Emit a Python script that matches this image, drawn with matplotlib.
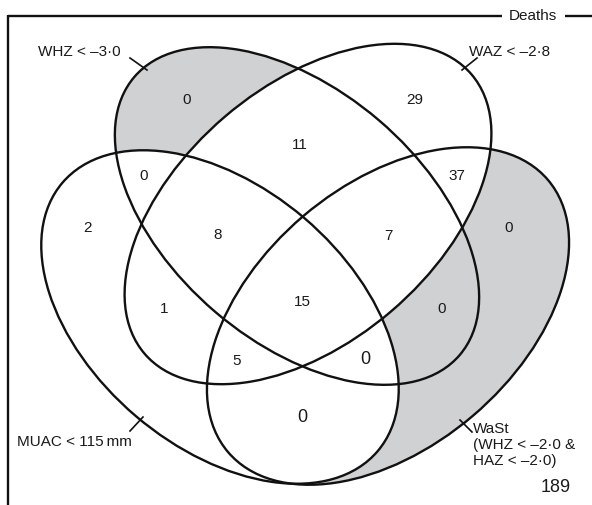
import numpy as np
import matplotlib
matplotlib.use("Agg")
import matplotlib.pyplot as plt
from matplotlib.patches import Ellipse

plt.rcParams['font.family'] = ['Liberation Sans', 'DejaVu Sans']

# ---------------- data ----------------
panel_title = "Deaths"
set_labels = ["WHZ < \u20133\u00b70", "WAZ < \u20132\u00b78", "MUAC < 115\u2009mm",
              "WaSt\n(WHZ < \u20132\u00b70 &\nHAZ < \u20132\u00b70)"]
# membership code: WHZ, WAZ, MUAC, WaSt
region_codes = ["1000", "0100", "0010", "0001",
                "1100", "1010", "1001", "0110", "0101", "0011",
                "1110", "1101", "1011", "0111", "1111"]
region_counts = [0, 29, 2, 0,
                 11, 0, 0, 1, 37, 0,
                 8, 7, 0, 5, 15]
outside_count = 189
shaded_regions = ["1000", "1001", "0001"]

# ---------------- layout (pixel space) ----------------
W, H = 592, 505
ellipses = [  # cx, cy, semi-major, semi-minor, angle
    (297, 216, 214, 126, 40.5),
    (308, 214, 215, 128, -40.5),
    (220, 317, 207, 130, 40.4),
    (388, 316, 210, 131, -40.4),
]
count_pos = {"1000": (187, 100), "0100": (415, 100), "0010": (88, 228), "0001": (509, 228),
             "1100": (300, 145), "1010": (144, 176), "1001": (442, 309), "0110": (164, 309),
             "0101": (457, 176), "0011": (302, 418), "1110": (218, 235), "1101": (388, 236),
             "1011": (365, 360), "0111": (237, 361), "1111": (302, 302)}
big_regions = {"1011", "0011"}
set_label_pos = [((121, 52), 'right', 'center', 'left'),
                 ((469, 52), 'left', 'center', 'left'),
                 ((17, 442), 'left', 'center', 'left'),
                 ((473, 445), 'left', 'center', 'left')]
ticks = [((130, 58), (147, 70)), ((477, 58), (462, 70)),
         ((130, 431), (143, 417)), ((460, 420), (472, 432))]

fig = plt.figure(figsize=(W / 100, H / 100), dpi=100)
ax = fig.add_axes([0, 0, 1, 1])
ax.set_xlim(0, W)
ax.set_ylim(H, 0)
ax.axis('off')

# shading via membership raster
gx = np.linspace(0, W, W * 2)
gy = np.linspace(0, H, H * 2)
X, Y = np.meshgrid(gx, gy)
inside = []
for cx, cy, a, b, ang in ellipses:
    t = np.deg2rad(ang)
    dx, dy = X - cx, Y - cy
    u = dx * np.cos(t) + dy * np.sin(t)
    v = -dx * np.sin(t) + dy * np.cos(t)
    inside.append((u / a) ** 2 + (v / b) ** 2 <= 1)
shade = np.zeros_like(X, dtype=bool)
for code in shaded_regions:
    m = np.ones_like(X, dtype=bool)
    for i, ch in enumerate(code):
        m &= inside[i] if ch == "1" else ~inside[i]
    shade |= m
img = np.ones(X.shape + (4,))
img[..., 3] = 0
img[shade] = [0.816, 0.82, 0.827, 1.0]
ax.imshow(img, extent=(0, W, H, 0), interpolation='antialiased', zorder=1)

for cx, cy, a, b, ang in ellipses:
    ax.add_patch(Ellipse((cx, cy), 2 * a, 2 * b, angle=ang, fill=False,
                         edgecolor='#111111', linewidth=1.7, zorder=3))

for code, n in zip(region_codes, region_counts):
    x, y = count_pos[code]
    ax.text(x, y, str(n), ha='center', va='center',
            fontsize=13 if code in big_regions else 11, color='#1a1a1a', zorder=4)

for lab, ((x, y), ha, va, ma) in zip(set_labels, set_label_pos):
    ax.text(x, y, lab, ha=ha, va=va, multialignment=ma, fontsize=11,
            color='#1a1a1a', linespacing=1.2, zorder=4)
for (p0, p1) in ticks:
    ax.plot([p0[0], p1[0]], [p0[1], p1[1]], color='#111111', lw=1.2, zorder=3)

# frame with title
ax.plot([8, 502], [16, 16], color='#111111', lw=1.7, solid_capstyle='butt')
ax.plot([565, W], [16, 16], color='#111111', lw=1.7, solid_capstyle='butt')
ax.plot([8, 8], [15.4, H], color='#111111', lw=1.7, solid_capstyle='butt')
ax.text(533, 16, panel_title, ha='center', va='center', fontsize=11, color='#1a1a1a')
ax.text(556, 487, str(outside_count), ha='center', va='center', fontsize=13, color='#1a1a1a')

fig.savefig("out.png", dpi=100)
